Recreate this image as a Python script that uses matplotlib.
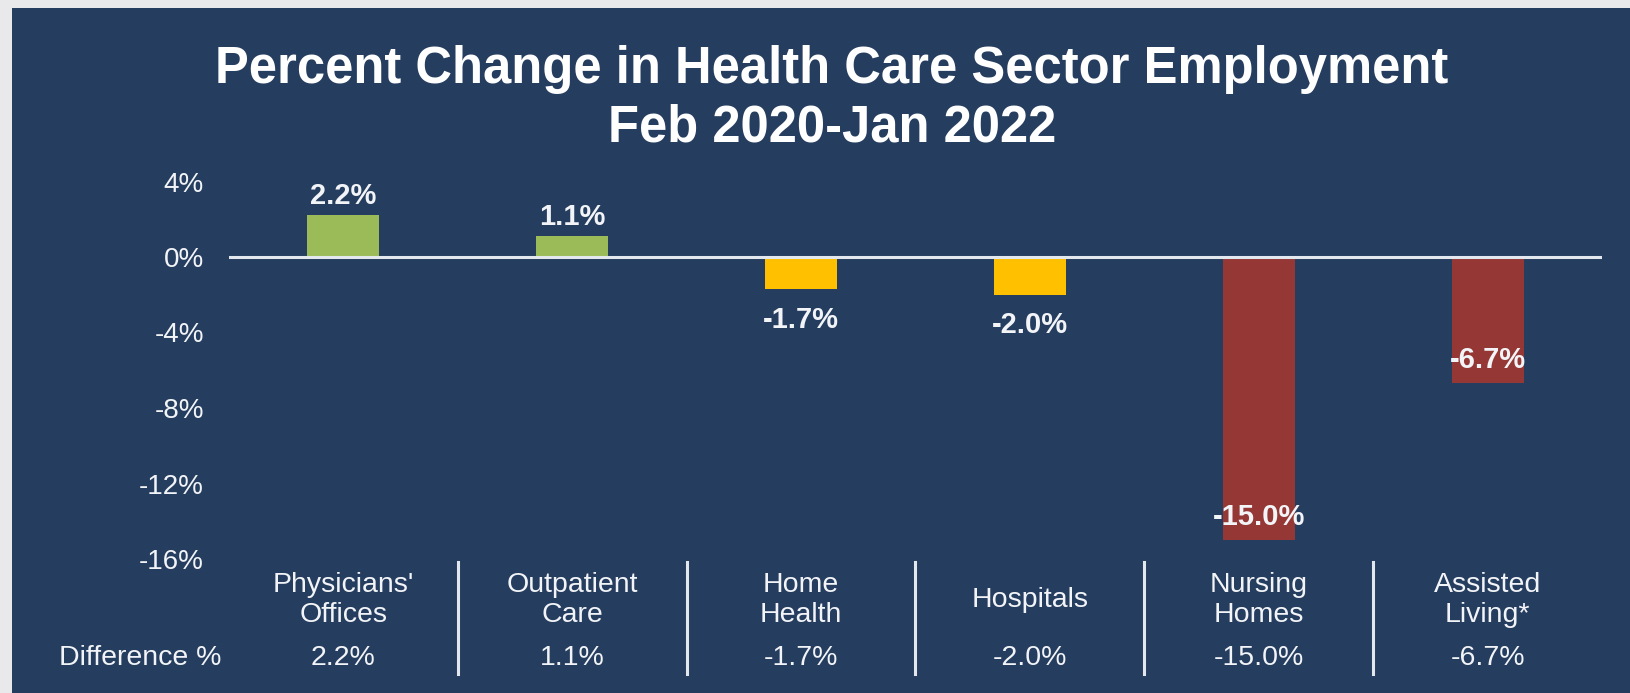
#!/usr/bin/env python3
"""
Percent Change in Health Care Sector Employment (Feb 2020-Jan 2022)
"""

import matplotlib

matplotlib.use("Agg")
import matplotlib.pyplot as plt
import matplotlib.transforms as mtransforms
from matplotlib.patches import Rectangle

# データ
categories = [
    "Physicians'\nOffices",
    "Outpatient\nCare",
    "Home\nHealth",
    "Hospitals",
    "Nursing\nHomes",
    "Assisted\nLiving*",
]
pct_change = [2.2, 1.1, -1.7, -2.0, -15.0, -6.7]
bar_groups = ["up", "up", "mild", "mild", "severe", "severe"]
y_ticks = [4, 0, -4, -8, -12, -16]

# 色設定
NAVY = "#253D5F"
WHITE = "#F2F4F7"
group_colors = {"up": "#9BBB59", "mild": "#FFC000", "severe": "#953735"}

plt.rcParams["font.family"] = ["Liberation Sans", "DejaVu Sans"]


def main():
    fig = plt.figure(figsize=(16.3, 6.93), dpi=100)
    fig.patch.set_facecolor("#E9E9EB")

    # 背景パネル
    W, H = 1630, 693
    fig.patches.append(
        Rectangle((12 / W, 0), 1, 1 - 8 / H, transform=fig.transFigure,
                  facecolor=NAVY, edgecolor="none", zorder=-10)
    )

    ax = fig.add_axes([229 / W, 1 - 559 / H, (1602 - 229) / W, (559 - 181.5) / H])
    ax.set_facecolor("none")

    x = list(range(len(categories)))
    colors = [group_colors[g] for g in bar_groups]
    ax.bar(x, pct_change, width=0.315, color=colors, zorder=2)
    ax.axhline(0, color="#E3E8EF", lw=2.2, zorder=3)

    ax.set_xlim(-0.5, len(categories) - 0.5)
    ax.set_ylim(-16, 4)
    ax.set_yticks(y_ticks)
    ax.set_yticklabels([f"{t}%" for t in y_ticks], color=WHITE, fontsize=20)
    ax.tick_params(axis="y", length=0, pad=18)
    ax.set_xticks([])
    for s in ax.spines.values():
        s.set_visible(False)

    # データラベル
    for xi, v, g in zip(x, pct_change, bar_groups):
        if g == "up":
            off = 14
        elif g == "mild":
            off = -22
        else:
            off = 17
        ax.annotate(f"{v:.1f}%", (xi, v), xytext=(0, off), textcoords="offset points",
                    ha="center", va="center", color=WHITE, fontsize=21,
                    fontweight="bold", zorder=4)

    # カテゴリラベル・差分行
    trans = mtransforms.blended_transform_factory(ax.transData, fig.transFigure)
    for xi, name, v in zip(x, categories, pct_change):
        ax.text(xi, 1 - 600 / H, name, transform=trans, ha="center", va="center",
                color=WHITE, fontsize=20.5, linespacing=1.15)
        ax.text(xi, 1 - 658 / H, f"{v:.1f}%", transform=trans, ha="center",
                va="center", color=WHITE, fontsize=20.5)
    for xi in x[:-1]:
        ax.plot([xi + 0.5, xi + 0.5], [1 - 562 / H, 1 - 674 / H], transform=trans,
                color="#E3E8EF", lw=2.2, clip_on=False)
    fig.text(140 / W, 1 - 658 / H, "Difference %", ha="center", va="center",
             color=WHITE, fontsize=20.5)

    # タイトル
    fig.text(832 / W, 1 - 99 / H, "Percent Change in Health Care Sector Employment\nFeb 2020-Jan 2022",
             ha="center", va="center", color="white", fontsize=36.5,
             fontweight="bold", linespacing=1.25)

    fig.savefig("out.png", dpi=100, facecolor=fig.get_facecolor())


if __name__ == "__main__":
    main()
